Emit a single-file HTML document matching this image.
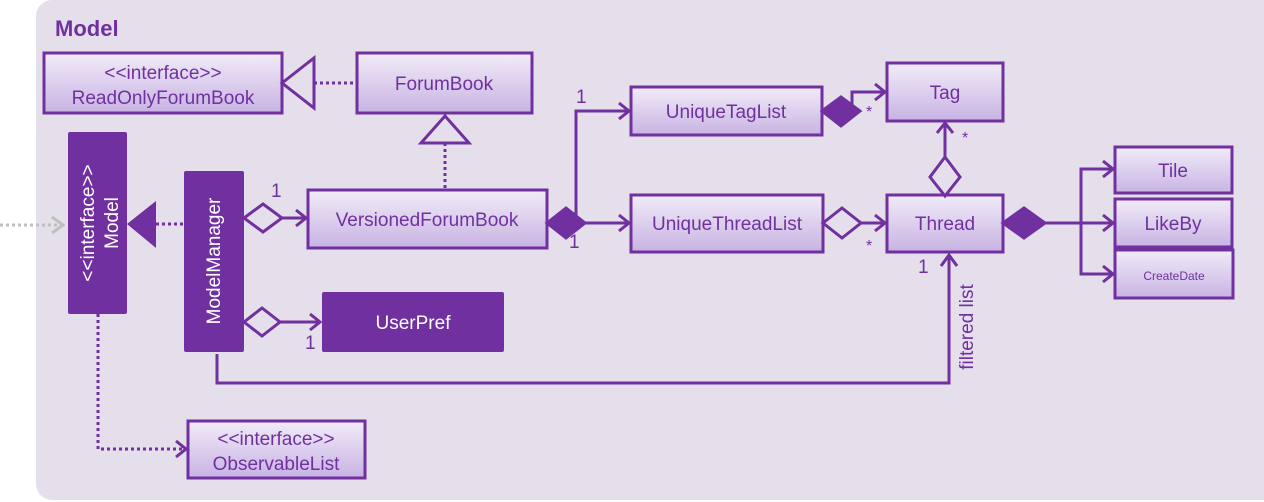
<!DOCTYPE html>
<html><head><meta charset="utf-8"><style>
html,body{margin:0;padding:0;background:#fff;}
svg{display:block;}
text{font-family:"Liberation Sans",sans-serif;fill:#7030a0;}
</style></head><body>
<svg width="1264" height="502" viewBox="0 0 1264 502" xmlns="http://www.w3.org/2000/svg">
<defs>
<linearGradient id="g" x1="0" y1="0" x2="0" y2="1">
<stop offset="0" stop-color="#f1ecf8"/><stop offset="1" stop-color="#c8b3e3"/>
</linearGradient>
</defs>
<rect x="36" y="0" width="1250" height="500" rx="16" fill="#e5dfec"/>
<text x="55" y="36" font-size="22" font-weight="bold">Model</text>

<g stroke="#7030a0" stroke-width="3" fill="url(#g)">
<rect x="44" y="53" width="238" height="60"/>
<rect x="357" y="53" width="175" height="60"/>
<rect x="308" y="190" width="239" height="58"/>
<rect x="631" y="87" width="191" height="48"/>
<rect x="887" y="63" width="116" height="58"/>
<rect x="631" y="195" width="192" height="57"/>
<rect x="887" y="195" width="116" height="57"/>
<rect x="1115" y="147" width="117" height="46"/>
<rect x="1115" y="199" width="117" height="48"/>
<rect x="1115" y="250" width="118" height="48"/>
<rect x="188" y="421" width="177" height="57"/>
</g>
<g fill="#7030a0">
<rect x="68" y="132" width="59" height="182" rx="2"/>
<rect x="184" y="171" width="60" height="181" rx="2"/>
<rect x="322" y="292" width="182" height="60" rx="2"/>
</g>

<g font-size="19" text-anchor="middle">
<text x="163" y="79">&lt;&lt;interface&gt;&gt;</text>
<text x="163" y="104">ReadOnlyForumBook</text>
<text x="444" y="90">ForumBook</text>
<text x="427" y="226">VersionedForumBook</text>
<text x="726" y="118">UniqueTagList</text>
<text x="945" y="99">Tag</text>
<text x="727" y="230">UniqueThreadList</text>
<text x="945" y="230">Thread</text>
<text x="1173" y="177">Tile</text>
<text x="1173" y="230">LikeBy</text>
<text x="1174" y="280" font-size="12">CreateDate</text>
<text x="276" y="445">&lt;&lt;interface&gt;&gt;</text>
<text x="276" y="470">ObservableList</text>
<text x="413" y="329" style="fill:#fff">UserPref</text>
<text transform="translate(94,223) rotate(-90)" style="fill:#fff">&lt;&lt;interface&gt;&gt;</text>
<text transform="translate(118,223) rotate(-90)" style="fill:#fff">Model</text>
<text transform="translate(220,261) rotate(-90)" style="fill:#fff">ModelManager</text>
<text transform="translate(973,327) rotate(-90)">filtered list</text>
</g>
<g font-size="19">
<text x="271" y="197">1</text>
<text x="305" y="349">1</text>
<text x="576" y="103">1</text>
<text x="569" y="248">1</text>
<text x="918" y="273">1</text>
<text x="866" y="117" font-size="16">*</text>
<text x="866" y="251" font-size="16">*</text>
<text x="962" y="143" font-size="16">*</text>
</g>

<g stroke="#7030a0" stroke-width="3" fill="none">
<line x1="314" y1="83" x2="357" y2="83" stroke-dasharray="3,3"/>
<line x1="445" y1="143" x2="445" y2="190" stroke-dasharray="3,3"/>
<line x1="156" y1="224" x2="184" y2="224" stroke-dasharray="3,3"/>
<polyline points="98,314 98,449 185,449" stroke-dasharray="3,3"/>
<polyline points="176,441 186,449 176,457"/>
<polygon points="282,83 314,58 314,108" fill="#e5dfec"/>
<polygon points="445,116 421,143 469,143" fill="#e5dfec"/>
<line x1="282" y1="218" x2="306" y2="218"/>
<polyline points="296,210 306,218 296,226"/>
<polygon points="244,218 263,204 282,218 263,232" fill="#e5dfec"/>
<line x1="280" y1="322" x2="320" y2="322"/>
<polyline points="310,314 320,322 310,330"/>
<polygon points="244,322 262,308 280,322 262,336" fill="#e5dfec"/>
<polyline points="217,354 217,383 949,383 949,256"/>
<polyline points="941,266 949,255 957,266"/>
<polyline points="576,223 576,111 629,111"/>
<polyline points="619,103 629,111 619,119"/>
<line x1="585" y1="223" x2="629" y2="223"/>
<polyline points="619,215 629,223 619,231"/>
<polygon points="547,223 566,208 585,223 566,238" fill="#7030a0"/>
<polyline points="852,111 852,92 885,92"/>
<polyline points="875,84 885,92 875,100"/>
<polygon points="822,111 841,97 860,111 841,126" fill="#7030a0"/>
<line x1="861" y1="223" x2="885" y2="223"/>
<polyline points="875,215 885,223 875,231"/>
<polygon points="823,223 842,208 861,223 842,238" fill="#e5dfec"/>
<line x1="945" y1="157" x2="945" y2="123"/>
<polyline points="937,133 945,123 953,133"/>
<polygon points="945,157 960,177 945,196 930,177" fill="#e5dfec"/>
<line x1="1045" y1="223" x2="1113" y2="223"/>
<polyline points="1113,169 1081,169 1081,274 1113,274"/>
<polyline points="1103,161 1113,169 1103,177"/>
<polyline points="1103,215 1113,223 1103,231"/>
<polyline points="1103,266 1113,274 1103,282"/>
<polygon points="1003,223 1024,208 1045,223 1024,238" fill="#7030a0"/>
</g>
<polygon points="127,224 156,201 156,248" fill="#7030a0"/>
<g stroke="#bfbfbf" stroke-width="3" fill="none">
<line x1="0" y1="225" x2="64" y2="225" stroke-dasharray="3,3"/>
<polyline points="52,217 63,225 52,233"/>
</g>
</svg>
</body></html>
